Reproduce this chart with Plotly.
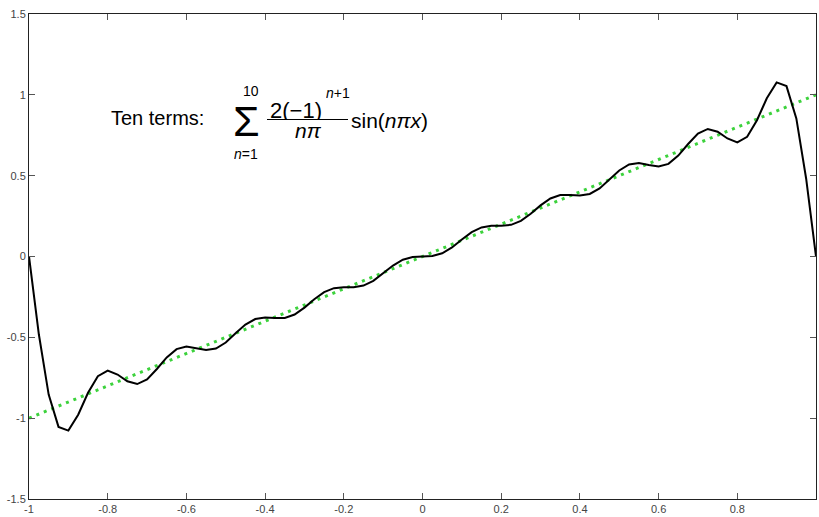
import plotly.graph_objects as go

# Sample positions and read-off values of the ten-term partial sum
x_vals = [-1.0, -0.975, -0.95, -0.925, -0.9, -0.875, -0.85, -0.825, -0.8, -0.775,
          -0.75, -0.725, -0.7, -0.675, -0.65, -0.625, -0.6, -0.575, -0.55, -0.525,
          -0.5, -0.475, -0.45, -0.425, -0.4, -0.375, -0.35, -0.325, -0.3, -0.275,
          -0.25, -0.225, -0.2, -0.175, -0.15, -0.125, -0.1, -0.075, -0.05, -0.025,
          0.0, 0.025, 0.05, 0.075, 0.1, 0.125, 0.15, 0.175, 0.2, 0.225,
          0.25, 0.275, 0.3, 0.325, 0.35, 0.375, 0.4, 0.425, 0.45, 0.475,
          0.5, 0.525, 0.55, 0.575, 0.6, 0.625, 0.65, 0.675, 0.7, 0.725,
          0.75, 0.775, 0.8, 0.825, 0.85, 0.875, 0.9, 0.925, 0.95, 0.975, 1.0]
y_vals = [0.000, -0.481, -0.854, -1.054, -1.077, -0.979, -0.843, -0.740, -0.706, -0.730,
          -0.772, -0.789, -0.761, -0.696, -0.624, -0.573, -0.557, -0.566, -0.578, -0.569,
          -0.532, -0.475, -0.421, -0.387, -0.377, -0.381, -0.380, -0.359, -0.316, -0.264,
          -0.220, -0.196, -0.190, -0.190, -0.180, -0.151, -0.105, -0.056, -0.020, -0.003,
          0.000, 0.003, 0.020, 0.056, 0.105, 0.151, 0.180, 0.190, 0.190, 0.196,
          0.220, 0.264, 0.316, 0.359, 0.380, 0.381, 0.377, 0.387, 0.421, 0.475,
          0.532, 0.569, 0.578, 0.566, 0.557, 0.573, 0.624, 0.696, 0.761, 0.789,
          0.772, 0.730, 0.706, 0.740, 0.843, 0.979, 1.077, 1.054, 0.854, 0.481, 0.000]

# Target function y = x (green dotted)
target_x = [-1.0, 1.0]
target_y = [-1.0, 1.0]

x_tickvals = [-1, -0.8, -0.6, -0.4, -0.2, 0, 0.2, 0.4, 0.6, 0.8, 1]
x_ticktext = ["-1", "-0.8", "-0.6", "-0.4", "-0.2", "0", "0.2", "0.4", "0.6", "0.8", "1"]
y_tickvals = [-1.5, -1, -0.5, 0, 0.5, 1, 1.5]
y_ticktext = ["-1.5", "-1", "-0.5", "0", "0.5", "1", "1.5"]

W, H = 819, 517
L, R, T, B = 29, 816, 14, 499


def P(px, py):
    return (px - L) / (R - L), (B - py) / (B - T)


fig = go.Figure()
fig.add_trace(go.Scatter(x=target_x, y=target_y, mode="lines",
                         line=dict(color="rgb(60,210,60)", width=3, dash="3px,5px"),
                         hoverinfo="skip", showlegend=False))
fig.add_trace(go.Scatter(x=x_vals, y=y_vals, mode="lines",
                         line=dict(color="black", width=2),
                         showlegend=False))

TF = "Liberation Sans, Arial, sans-serif"
annots = []


def add_text(txt, px, py, size, xanchor="center", height=None):
    ax, ay = P(px, py)
    a = dict(text=txt, x=ax, y=ay, xref="paper", yref="paper",
             xanchor=xanchor, yanchor="middle", showarrow=False,
             borderpad=0, font=dict(family=TF, size=size, color="black"))
    if height is not None:
        a["height"] = height
    annots.append(a)


add_text("Ten terms:", 110, 118, 20, xanchor="left")
add_text("\u03a3", 246, 121, 43, height=34)
add_text("10", 251, 91, 14, height=14)
add_text("<i>n</i>=1", 246, 154, 14, height=14)
add_text("2(\u22121)", 296, 110, 22, height=18)
add_text("<i>n</i>+1", 325, 93, 14, xanchor="left", height=14)
add_text("<i>n\u03c0</i>", 308, 130, 21, height=18)
add_text("sin(<i>n\u03c0x</i>)", 350, 120, 21, xanchor="left")

x0, y0 = P(267, 119.5)
x1, _ = P(348, 119.5)

tickfont = dict(family="Liberation Sans, Arial, sans-serif", size=11, color="#444")

fig.update_layout(
    width=W, height=H,
    margin=dict(l=L, r=W - R, t=T, b=H - B, pad=0),
    paper_bgcolor="white", plot_bgcolor="white",
    annotations=annots,
    shapes=[dict(type="line", xref="paper", yref="paper", x0=x0, x1=x1, y0=y0, y1=y0,
                 line=dict(color="black", width=1))],
    xaxis=dict(range=[-1, 1], tickvals=x_tickvals, ticktext=x_ticktext,
               showgrid=False, zeroline=False, showline=True, linecolor="#222",
               linewidth=1, mirror="ticks", ticks="inside", ticklen=6,
               tickcolor="#555", automargin=False, tickfont=tickfont),
    yaxis=dict(range=[-1.5, 1.5], tickvals=y_tickvals, ticktext=y_ticktext,
               showgrid=False, zeroline=False, showline=True, linecolor="#222",
               linewidth=1, mirror="ticks", ticks="inside", ticklen=6,
               tickcolor="#555", automargin=False, tickfont=tickfont),
)

fig.write_html("out.html", config={"displayModeBar": False},
               post_script="document.body.style.margin='0';document.body.style.overflow='hidden';")
